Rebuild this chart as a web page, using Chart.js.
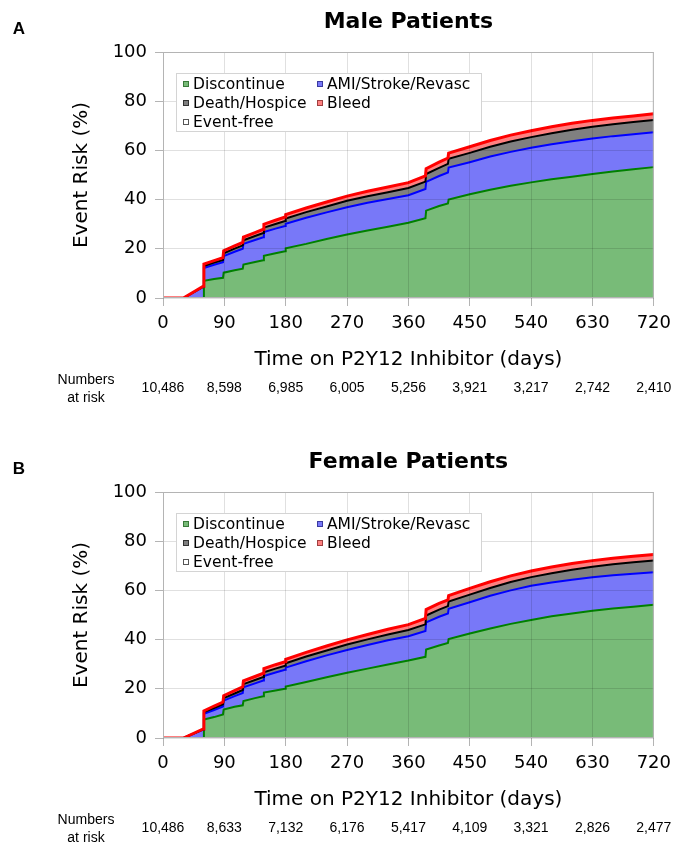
<!DOCTYPE html>
<html>
<head>
<meta charset="utf-8">
<script src="https://cdn.jsdelivr.net/npm/chart.js@4.4.0/dist/chart.umd.min.js"></script>
<style>
body { margin: 0; background: #fff; width: 678px; height: 844px; overflow: hidden; }
.panel { position: relative; width: 678px; height: 440px; }
</style>
</head>
<body>
<div class="panel"><canvas id="male" width="678" height="440"></canvas></div>
<div class="panel"><canvas id="female" width="678" height="440"></canvas></div>
<script>
// days on the x axis (shared by every curve)
var days = [0, 30, 59, 60, 75, 88, 89, 105, 117, 118, 135, 147, 148, 165, 179, 180,
    210, 240, 270, 300, 330, 360, 385, 386, 405, 418, 419,
    450, 480, 510, 540, 570, 600, 630, 660, 690, 720];

// cumulative curves (top edge of each band, %), male
var maleDiscontinue = [0, 0, 0, 7, 7.7, 8.2, 10.3, 11.3, 11.9, 13.6, 14.6, 15.3, 17.2, 18.2, 19, 20.2,
    22, 24, 25.8, 27.4, 29, 30.6, 32.4, 35.5, 37.4, 38.4, 40,
    42.2, 44, 45.6, 47, 48.3, 49.3, 50.4, 51.4, 52.3, 53.2];
var maleAmi = [0, 0, 4.5, 12.2, 13.5, 14.5, 17, 18.8, 20, 22, 23.6, 24.7, 26.8, 28.2, 29.3, 30.2,
    32.6, 34.8, 36.9, 38.7, 40.2, 41.8, 44.3, 47.2, 49.6, 51, 53,
    55.2, 57.5, 59.4, 61.1, 62.5, 63.7, 64.8, 65.8, 66.6, 67.4];
var maleDeath = [0, 0, 4.6, 13, 14.4, 15.5, 18.2, 20.1, 21.4, 23.5, 25.2, 26.4, 28.6, 30.1, 31.3, 32.3,
    34.9, 37.2, 39.5, 41.4, 43, 44.7, 47.3, 50.4, 52.9, 54.5, 56.6,
    59, 61.5, 63.6, 65.4, 67, 68.4, 69.6, 70.6, 71.5, 72.4];
var maleBleed = [0, 0, 4.8, 13.8, 15.2, 16.4, 19.2, 21.2, 22.6, 24.8, 26.6, 27.9, 30, 31.6, 32.9, 33.9,
    36.6, 39, 41.4, 43.4, 45.1, 46.9, 49.6, 52.6, 55.2, 56.9, 58.9,
    61.5, 64, 66.2, 68, 69.6, 71, 72.2, 73.2, 74, 74.9];

// cumulative curves, female
var femaleDiscontinue = [0, 0, 0, 7.5, 8.5, 9.6, 11.6, 12.7, 13.3, 15, 16.2, 17, 18.5, 19.3, 20, 20.9,
    22.8, 24.7, 26.5, 28.2, 29.9, 31.5, 33, 36, 37.6, 38.6, 40.2,
    42.5, 44.5, 46.4, 48, 49.5, 50.6, 51.7, 52.6, 53.4, 54.2];
var femaleAmi = [0, 0, 3.4, 9.8, 11.4, 12.8, 15.2, 17, 18.3, 20.6, 22.2, 23.4, 25.2, 26.6, 27.7, 28.6,
    31.2, 33.6, 35.8, 37.8, 39.7, 41.4, 43.5, 47, 49.3, 50.6, 52.5,
    55.2, 57.8, 60, 61.9, 63.2, 64.3, 65.3, 66.2, 66.8, 67.4];
var femaleDeath = [0, 0, 3.5, 10.5, 12.2, 13.7, 16.2, 18.1, 19.5, 21.9, 23.6, 24.8, 26.7, 28.2, 29.4, 30.4,
    33.1, 35.6, 38, 40.1, 42.1, 43.9, 46.2, 49.8, 52.2, 53.6, 55.5,
    58.3, 61, 63.4, 65.4, 67, 68.4, 69.6, 70.6, 71.4, 72.2];
var femaleBleed = [0, 0, 3.7, 11, 13, 14.6, 17.2, 19.3, 20.8, 23.2, 25, 26.3, 28.2, 29.8, 31, 32,
    34.8, 37.4, 39.9, 42.1, 44.2, 46.1, 48.6, 52.2, 54.7, 56.1, 57.9,
    60.8, 63.5, 65.9, 67.9, 69.5, 70.9, 72.1, 73.1, 73.9, 74.6];

var xTicks = [0, 90, 180, 270, 360, 450, 540, 630, 720];
var maleAtRisk = ['10,486', '8,598', '6,985', '6,005', '5,256', '3,921', '3,217', '2,742', '2,410'];
var femaleAtRisk = ['10,486', '8,633', '7,132', '6,176', '5,417', '4,109', '3,321', '2,826', '2,477'];

var seriesNames = ['Discontinue', 'AMI/Stroke/Revasc', 'Death/Hospice', 'Bleed', 'Event-free'];

Chart.defaults.font.family = '"DejaVu Sans", sans-serif';
Chart.defaults.color = '#000';

function pts(values) {
    return days.map(function(d, i) { return { x: d, y: values[i] }; });
}

var panelText = {
    id: 'panelText',
    afterDraw: function(chart, args, opts) {
        var ctx = chart.ctx;
        var area = chart.chartArea;
        var xs = chart.scales.x;
        ctx.save();

        // plot frame
        ctx.strokeStyle = '#b4b4b4';
        ctx.lineWidth = 1;
        ctx.strokeRect(area.left + 0.5, area.top + 0.5, area.right - area.left - 1, area.bottom - area.top - 1);

        // title and panel letter
        ctx.fillStyle = '#000';
        ctx.textAlign = 'center';
        ctx.textBaseline = 'middle';
        ctx.font = 'bold 22px "DejaVu Sans"';
        ctx.fillText(opts.title, (area.left + area.right) / 2, 22);
        ctx.font = 'bold 17px "Liberation Sans"';
        ctx.fillText(opts.letter, 19, 29);

        // legend box inside plot
        var bx = area.left + 13, by = area.top + 21;
        ctx.fillStyle = '#fff';
        ctx.fillRect(bx, by, 305, 58);
        ctx.strokeStyle = '#d4d4d4';
        ctx.strokeRect(bx + 0.5, by + 0.5, 305, 58);
        var fills = ['#78bb78', '#7878f8', '#808080', '#ff8080', '#ffffff'];
        var edges = ['#3a7a3a', '#3a3aa0', '#333333', '#a04040', '#555555'];
        var cols = [0, 1, 0, 1, 0];
        var rows = [0, 0, 1, 1, 2];
        ctx.textAlign = 'left';
        ctx.font = '15.5px "DejaVu Sans"';
        seriesNames.forEach(function(name, i) {
            var mx = bx + 7 + cols[i] * 134;
            var my = by + 11 + rows[i] * 19;
            ctx.fillStyle = fills[i];
            ctx.fillRect(mx, my - 3, 6, 6);
            ctx.strokeStyle = edges[i];
            ctx.strokeRect(mx + 0.5, my - 2.5, 5, 5);
            ctx.fillStyle = '#000';
            ctx.fillText(name, mx + 10, my + 1);
        });

        // numbers at risk
        ctx.textAlign = 'center';
        ctx.font = '14px "Liberation Sans"';
        ctx.fillText('Numbers', 86, 380);
        ctx.fillText('at risk', 86, 398);
        opts.atRisk.forEach(function(n, i) {
            ctx.fillText(n, xs.getPixelForValue(xTicks[i]), 388);
        });
        ctx.restore();
    }
};

function makePanel(id, title, letter, disc, ami, death, bleed, atRisk) {
    new Chart(document.getElementById(id), {
        type: 'line',
        data: {
            datasets: [
                { label: seriesNames[0], data: pts(disc), borderColor: '#008000', backgroundColor: '#78bb78', fill: 'origin', borderWidth: 2, order: 3 },
                { label: seriesNames[1], data: pts(ami), borderColor: '#0000ff', backgroundColor: '#7878f8', fill: '-1', borderWidth: 2, order: 2 },
                { label: seriesNames[2], data: pts(death), borderColor: '#000000', backgroundColor: '#808080', fill: '-1', borderWidth: 2, order: 1 },
                { label: seriesNames[3], data: pts(bleed), borderColor: '#ff0000', backgroundColor: '#ff8080', fill: '-1', borderWidth: 3, order: 0 }
            ]
        },
        options: {
            responsive: false,
            animation: false,
            devicePixelRatio: 1,
            layout: { padding: { top: 52, right: 22, bottom: 0, left: 0 } },
            elements: { point: { radius: 0 }, line: { tension: 0 } },
            plugins: {
                legend: { display: false },
                tooltip: { enabled: false },
                filler: { drawTime: 'beforeDatasetsDraw' },
                panelText: { title: title, letter: letter, atRisk: atRisk }
            },
            scales: {
                x: {
                    type: 'linear',
                    min: 0,
                    max: 720,
                    ticks: { stepSize: 90, color: '#000', font: { size: 18 }, padding: 7, maxRotation: 0, autoSkip: false },
                    grid: { color: 'rgba(0,0,0,0.12)', tickColor: '#b4b4b4', tickLength: 8, z: 1 },
                    border: { display: false },
                    title: { display: true, text: 'Time on P2Y12 Inhibitor (days)', color: '#000', font: { size: 20 }, padding: { top: 0, bottom: 68 } },
                    afterFit: function(s) { s.height = 142; }
                },
                y: {
                    min: 0,
                    max: 100,
                    ticks: { stepSize: 20, color: '#000', font: { size: 18 }, padding: 8 },
                    grid: { color: 'rgba(0,0,0,0.12)', tickColor: '#b4b4b4', tickLength: 8, z: 1 },
                    border: { display: false },
                    title: { display: true, text: 'Event Risk (%)', color: '#000', font: { size: 20 }, padding: { top: 70, bottom: 0 } },
                    afterFit: function(s) { s.width = 163; }
                }
            }
        },
        plugins: [panelText]
    });
}

makePanel('male', 'Male Patients', 'A', maleDiscontinue, maleAmi, maleDeath, maleBleed, maleAtRisk);
makePanel('female', 'Female Patients', 'B', femaleDiscontinue, femaleAmi, femaleDeath, femaleBleed, femaleAtRisk);
</script>
</body>
</html>
